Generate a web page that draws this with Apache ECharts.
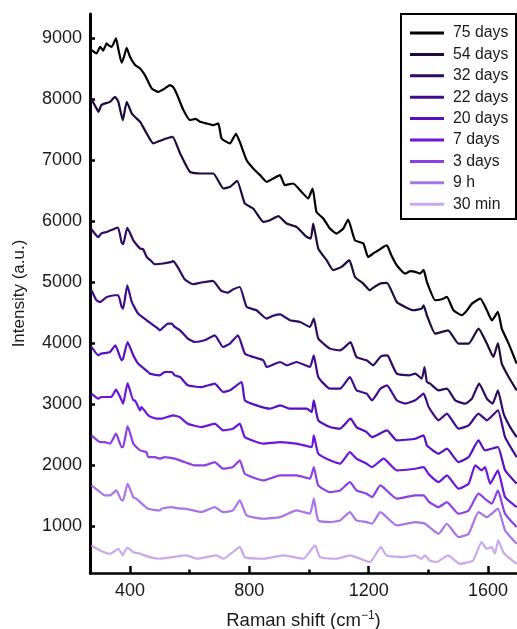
<!DOCTYPE html>
<html><head><meta charset="utf-8">
<script src="https://cdn.jsdelivr.net/npm/echarts@6/dist/echarts.min.js"></script>
<style>html,body{margin:0;padding:0;background:#fff}#c{width:517px;height:629px}</style>
</head><body><div id="c"></div>
<script>
// Raman spectra, [shift cm^-1, intensity a.u.]
const d75 = [[271,8808],[288,8754],[300,8862],[310,8800],[322,8918],[330,8880],[339,8862],[353,9000],[362,8800],[372,8600],[380,8700],[389,8846],[400,8698],[417,8562],[434,8507],[450,8397],[460,8300],[473,8179],[495,8123],[517,8180],[534,8233],[545,8200],[556,8097],[579,7823],[601,7659],[620,7680],[635,7631],[660,7600],[679,7576],[696,7604],[707,7358],[735,7276],[755,7435],[768,7302],[791,7000],[813,6865],[835,6760],[858,6645],[880,6701],[903,6755],[919,6591],[947,6619],[975,6481],[997,6373],[1012,6537],[1025,6153],[1048,6044],[1070,5880],[1092,5798],[1115,5880],[1131,6028],[1154,5688],[1182,5634],[1198,5414],[1215,5470],[1233,5524],[1250,5580],[1261,5606],[1275,5450],[1294,5278],[1322,5141],[1340,5180],[1356,5168],[1372,5140],[1384,5200],[1395,5004],[1423,4703],[1445,4720],[1462,4757],[1484,4539],[1512,4457],[1530,4540],[1546,4649],[1574,4730],[1596,4539],[1613,4374],[1633,4511],[1646,4238],[1669,3992],[1696,3663]];
const d54 = [[271,8000],[288,7850],[294,7795],[304,7905],[315,7930],[333,7959],[350,8041],[361,7959],[376,7658],[389,7959],[406,7768],[416,7713],[434,7631],[456,7440],[478,7276],[506,7330],[530,7370],[543,7385],[568,7112],[601,6810],[635,6783],[679,6783],[713,6537],[735,6563],[759,6662],[785,6291],[813,6209],[847,5989],[869,6017],[897,6082],[925,5962],[958,5907],[992,5742],[1006,5716],[1014,5962],[1031,5552],[1059,5360],[1081,5196],[1109,5250],[1135,5360],[1154,5085],[1182,4977],[1204,4867],[1211,4895],[1239,4977],[1261,4987],[1294,4675],[1322,4593],[1350,4539],[1378,4567],[1384,4620],[1395,4457],[1423,4156],[1466,4210],[1501,3992],[1535,3992],[1568,4238],[1596,3992],[1618,3772],[1633,4002],[1646,3663],[1669,3444],[1696,3225]];
const d32 = [[271,5868],[288,5760],[294,5740],[304,5800],[322,5824],[350,5880],[360,5897],[372,5650],[377,5622],[391,5890],[411,5688],[421,5622],[434,5552],[444,5540],[456,5414],[471,5348],[483,5294],[512,5306],[540,5332],[544,5348],[561,5240],[583,5048],[611,4966],[639,4994],[678,5020],[706,4856],[728,4829],[745,4880],[768,4921],[791,4593],[824,4539],[858,4402],[880,4450],[903,4473],[936,4374],[970,4347],[1003,4265],[1016,4402],[1031,4074],[1070,3910],[1104,3882],[1120,3936],[1139,4018],[1159,3772],[1193,3718],[1215,3636],[1240,3780],[1261,3800],[1267,3772],[1294,3499],[1334,3471],[1356,3499],[1378,3417],[1387,3608],[1395,3362],[1406,3335],[1434,3225],[1462,3253],[1490,3061],[1523,3007],[1546,3089],[1570,3335],[1596,3089],[1615,3007],[1633,3225],[1652,2842],[1674,2622],[1696,2458]];
const d22 = [[271,4868],[288,4700],[300,4675],[315,4730],[322,4757],[349,4785],[361,4785],[372,4593],[377,4567],[391,4949],[406,4675],[427,4485],[456,4374],[494,4238],[500,4210],[527,4320],[540,4320],[550,4265],[568,4210],[594,4074],[617,4018],[650,4046],[684,4128],[712,3936],[735,3992],[762,4128],[785,3828],[813,3772],[847,3718],[858,3608],[903,3690],[925,3636],[958,3690],[1003,3608],[1016,3800],[1031,3444],[1070,3253],[1104,3253],[1137,3444],[1159,3225],[1193,3171],[1211,3061],[1239,3250],[1261,3307],[1294,3061],[1322,3007],[1356,3061],[1384,3171],[1401,2951],[1434,2733],[1462,2842],[1501,2596],[1535,2650],[1568,2842],[1596,2733],[1633,2897],[1657,2458],[1696,2130]];
const d20 = [[271,3937],[294,3800],[304,3828],[333,3854],[351,3964],[372,3718],[377,3746],[392,4018],[411,3800],[427,3663],[434,3636],[461,3526],[466,3499],[500,3471],[516,3526],[540,3526],[550,3471],[568,3444],[594,3307],[639,3279],[684,3335],[712,3198],[735,3225],[774,3362],[785,3061],[824,2979],[869,2925],[903,2979],[936,2925],[992,2925],[1009,2869],[1016,3061],[1031,2733],[1070,2622],[1104,2596],[1139,2760],[1159,2622],[1193,2540],[1211,2458],[1261,2568],[1294,2404],[1356,2431],[1384,2486],[1395,2322],[1434,2186],[1462,2268],[1501,2048],[1535,2130],[1568,2404],[1590,2240],[1633,2294],[1657,1912],[1696,1693]];
const d7 = [[271,3171],[294,3089],[304,3116],[337,3116],[353,3236],[372,3061],[377,3007],[392,3345],[411,3061],[416,3061],[434,2897],[438,2951],[461,2815],[471,2787],[489,2760],[505,2760],[544,2815],[566,2787],[594,2678],[639,2622],[684,2678],[712,2568],[745,2596],[768,2678],[785,2458],[847,2350],[903,2377],[958,2350],[1009,2294],[1016,2486],[1031,2186],[1070,2076],[1104,2021],[1137,2212],[1159,2104],[1193,2021],[1211,1966],[1250,2104],[1294,1912],[1356,1939],[1384,1966],[1401,1850],[1434,1720],[1462,1830],[1501,1611],[1535,1693],[1557,1994],[1579,1912],[1590,1966],[1607,1693],[1633,1912],[1657,1473],[1696,1309]];
const d3 = [[271,2486],[300,2377],[315,2377],[333,2350],[353,2514],[372,2294],[377,2294],[392,2640],[411,2350],[421,2294],[434,2240],[455,2212],[461,2130],[483,2130],[500,2104],[516,2130],[550,2104],[583,2048],[617,1994],[650,1994],[684,2048],[712,1939],[745,1966],[768,2076],[785,1857],[847,1747],[903,1830],[958,1830],[1003,1775],[1016,1966],[1031,1665],[1070,1555],[1104,1583],[1137,1720],[1159,1583],[1193,1529],[1211,1473],[1239,1665],[1294,1447],[1356,1501],[1384,1501],[1401,1400],[1434,1309],[1462,1391],[1501,1200],[1535,1255],[1568,1529],[1596,1419],[1613,1364],[1633,1583],[1657,1200],[1696,981]];
const d9h = [[271,1665],[300,1555],[315,1501],[333,1501],[354,1583],[372,1419],[377,1419],[392,1693],[411,1473],[421,1447],[434,1391],[460,1283],[500,1255],[505,1283],[538,1309],[568,1283],[583,1283],[639,1227],[684,1309],[712,1227],[745,1255],[768,1419],[791,1173],[847,1118],[903,1145],[958,1255],[1003,1200],[1016,1447],[1031,1091],[1070,1063],[1104,1091],[1137,1227],[1159,1091],[1193,1063],[1211,1036],[1239,1227],[1294,1009],[1356,1063],[1389,1036],[1434,872],[1462,1036],[1501,817],[1535,872],[1568,1227],[1596,1145],[1633,1283],[1657,926],[1696,708]];
const d30m = [[271,680],[300,598],[333,544],[361,626],[376,516],[378,544],[391,643],[411,570],[434,544],[466,488],[500,462],[540,488],[590,516],[623,462],[690,516],[713,462],[768,653],[785,488],[847,462],[914,516],[981,462],[1020,680],[1037,488],[1092,462],[1137,516],[1204,407],[1241,653],[1260,516],[1316,488],[1355,516],[1377,462],[1388,516],[1405,434],[1427,407],[1466,516],[1506,379],[1550,434],[1578,735],[1595,626],[1612,653],[1623,544],[1634,763],[1651,571],[1667,488],[1696,379]];

const names = ['75 days','54 days','32 days','22 days','20 days','7 days','3 days','9 h','30 min'];
const datasets = [d75,d54,d32,d22,d20,d7,d3,d9h,d30m];
const colors = ['#000000','#1e0a3c','#2e0b64','#3f0c8e','#560fc2','#6c16dc','#8c40e4','#a874e8','#caa8ec'];
const xMajor = [400,800,1200,1600];
const xMinor = [600,1000,1400];
const yTicks = [1000,2000,3000,4000,5000,6000,7000,8000,9000];

const FONT = 'Liberation Sans, Arial, Helvetica, sans-serif';
const plain = v => String(v);
const chart = echarts.init(document.getElementById('c'), null, {renderer:'canvas'});
const xBase = {type:'value', min:266, max:1697, splitLine:{show:false}};
chart.setOption({
  animation:false,
  backgroundColor:'#fff',
  textStyle:{fontFamily:FONT},
  grid:{left:90, right:0, top:14, bottom:56, containLabel:false, outerBoundsMode:'none'},
  xAxis:[
    Object.assign({}, xBase, {
      position:'bottom',
      name:'Raman shift (cm{sup|\u22121})',
      nameLocation:'middle', nameGap:37,
      nameTextStyle:{fontSize:18.5, color:'#1a1a1a', fontFamily:FONT,
        rich:{sup:{fontSize:12, verticalAlign:'top', padding:[0,0,10,0], color:'#1a1a1a'}}},
      axisLine:{show:true, onZero:false, lineStyle:{color:'#000', width:2.5}},
      axisTick:{show:true, inside:true, length:7, lineStyle:{color:'#000', width:2.5}, customValues:xMajor},
      axisLabel:{show:true, customValues:xMajor, formatter:plain, fontSize:18, color:'#1a1a1a', margin:9, fontFamily:FONT}
    }),
    Object.assign({}, xBase, {
      position:'bottom',
      axisLine:{show:false},
      axisTick:{show:true, inside:true, length:3.5, lineStyle:{color:'#000', width:2.5}, customValues:xMinor},
      axisLabel:{show:false}
    })
  ],
  yAxis:{
    type:'value', min:228, max:9400, splitLine:{show:false},
    name:'Intensity (a.u.)', nameLocation:'middle', nameGap:62,
    nameTextStyle:{fontSize:17, color:'#1a1a1a', fontFamily:FONT},
    axisLine:{show:true, lineStyle:{color:'#000', width:3}},
    axisTick:{show:true, inside:true, length:5, lineStyle:{color:'#000', width:2.5}, customValues:yTicks},
    axisLabel:{show:true, customValues:yTicks, formatter:plain, fontSize:18, color:'#1a1a1a', margin:8, fontFamily:FONT}
  },
  graphic:[{type:'rect', z:3, shape:{x:401, y:14, width:115, height:205},
    style:{fill:'#fff', stroke:'#000', lineWidth:2}}],
  legend:{
    orient:'vertical', left:410, top:25, padding:0, itemGap:5.4,
    itemWidth:34, itemHeight:3, icon:'rect', z:5,
    textStyle:{fontSize:15.8, color:'#1a1a1a', lineHeight:16, fontFamily:FONT, padding:[0,0,0,4]},
    data:names
  },
  series: names.map((n,i)=>({
    name:n, type:'line', data:datasets[i], showSymbol:false, symbol:'none', smooth:0.15,
    color:colors[i], lineStyle:{width:2.2, color:colors[i]}, z:2
  }))
});
</script></body></html>
